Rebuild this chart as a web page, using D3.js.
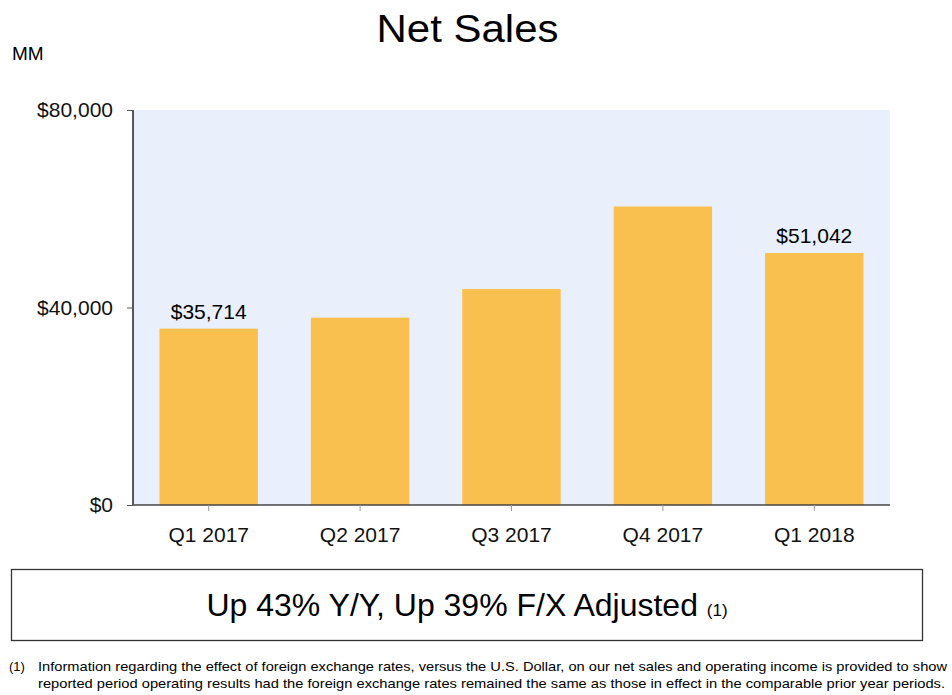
<!DOCTYPE html>
<html>
<head>
<meta charset="utf-8">
<script src="https://cdn.jsdelivr.net/npm/d3@7"></script>
<style>
  body { margin: 0; background: #fff; }
  svg { display: block; font-family: "Liberation Sans", Arial, sans-serif; }
</style>
</head>
<body>
<svg id="chart" width="952" height="695"></svg>
<script>
var quarters = ["Q1 2017", "Q2 2017", "Q3 2017", "Q4 2017", "Q1 2018"];
var netSales = [35714, 37955, 43744, 60453, 51042];
var labelled = ["Q1 2017", "Q1 2018"]; // only these bars get a value label
var yTicks = [0, 40000, 80000];

var svg = d3.select("#chart");

// plot box
var margin = {top: 110, right: 62, bottom: 190, left: 133},
    width = 952 - margin.left - margin.right,
    height = 695 - margin.top - margin.bottom;

var data = quarters.map(function(q, i) { return {q: q, v: netSales[i]}; });

// title + unit
svg.append("text")
  .attr("x", 376.5).attr("y", 42)
  .attr("textLength", 182).attr("lengthAdjust", "spacingAndGlyphs")
  .style("font-size", "38px")
  .text("Net Sales");

svg.append("text")
  .attr("x", 12).attr("y", 60)
  .style("font-size", "19px")
  .text("MM");

var g = svg.append("g")
  .attr("transform", "translate(" + margin.left + "," + margin.top + ")");

// background of plot area
g.append("rect")
  .attr("width", width).attr("height", height)
  .attr("fill", "#e9f0fc");

var x = d3.scaleBand()
  .domain(quarters)
  .range([0, width])
  .paddingInner(0.35)
  .paddingOuter(0.175);

var y = d3.scaleLinear()
  .domain([0, 80000])
  .range([height, 0]);

// bars
g.selectAll("rect.bar")
  .data(data)
  .enter()
  .append("rect")
  .attr("class", "bar")
  .attr("x", function(d) { return x(d.q); })
  .attr("y", function(d) { return y(d.v); })
  .attr("width", x.bandwidth())
  .attr("height", function(d) { return height - y(d.v); })
  .attr("fill", "#f9bf4f");

// value labels
g.selectAll("text.val")
  .data(data.filter(function(d) { return labelled.indexOf(d.q) >= 0; }))
  .enter()
  .append("text")
  .attr("class", "val")
  .attr("text-anchor", "middle")
  .attr("x", function(d) { return x(d.q) + x.bandwidth() / 2; })
  .attr("y", function(d) { return y(d.v) - 10; })
  .style("font-size", "21px")
  .text(function(d) { return "$" + d3.format(",")(d.v); });

// y axis
var yAxis = g.append("g")
  .call(d3.axisLeft(y).tickValues(yTicks).tickSize(6).tickPadding(14)
    .tickFormat(function(d) { return "$" + d3.format(",")(d); }));
yAxis.select(".domain").attr("stroke", "#222").attr("stroke-width", 1.5)
  .attr("d", "M0,0V" + height);
yAxis.selectAll(".tick line").attr("stroke", "#555");
yAxis.selectAll(".tick text")
  .style("font-size", "21px")
  .style("font-family", "'Liberation Sans', Arial, sans-serif")
  .attr("fill", "#111");

// x axis
var xAxis = g.append("g")
  .attr("transform", "translate(0," + height + ")")
  .call(d3.axisBottom(x).tickSize(6).tickPadding(16));
xAxis.select(".domain").attr("stroke", "#444").attr("stroke-width", 1.5)
  .attr("d", "M0,0H" + width);
xAxis.selectAll(".tick line").attr("stroke", "#999");
xAxis.selectAll(".tick text")
  .style("font-size", "21px")
  .style("font-family", "'Liberation Sans', Arial, sans-serif")
  .attr("fill", "#111");

// growth box
svg.append("rect")
  .attr("x", 11.5).attr("y", 569.5)
  .attr("width", 911).attr("height", 71)
  .attr("fill", "none").attr("stroke", "#333").attr("stroke-width", 1.3);

var growth = svg.append("text")
  .attr("x", 467).attr("y", 616)
  .attr("text-anchor", "middle")
  .style("font-size", "32px");
growth.append("tspan").text("Up 43% Y/Y, Up 39% F/X Adjusted ");
growth.append("tspan").style("font-size", "17px").text("(1)");

// footnote
var note = svg.append("g").style("font-size", "13px")
  .style("font-family", "'Liberation Sans Narrow', 'Liberation Sans', Arial, sans-serif");
note.append("text").attr("x", 9).attr("y", 671).text("(1)");
note.append("text").attr("x", 38).attr("y", 671)
  .attr("textLength", 909).attr("lengthAdjust", "spacingAndGlyphs")
  .text("Information regarding the effect of foreign exchange rates, versus the U.S. Dollar, on our net sales and operating income is provided to show");
note.append("text").attr("x", 38).attr("y", 688)
  .attr("textLength", 907).attr("lengthAdjust", "spacingAndGlyphs")
  .text("reported period operating results had the foreign exchange rates remained the same as those in effect in the comparable prior year periods.");
</script>
</body>
</html>
